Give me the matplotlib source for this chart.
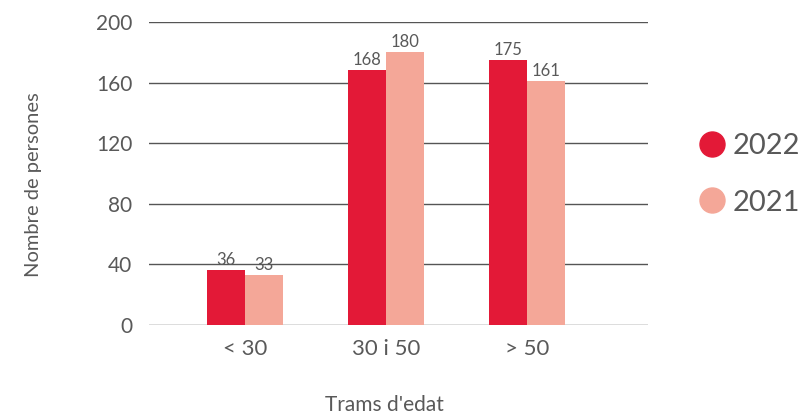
import matplotlib.pyplot as plt
from matplotlib.lines import Line2D
import numpy as np

# data
categories = ['< 30', '30 i 50', '> 50']
values_2022 = [36, 168, 175]
values_2021 = [33, 180, 161]
years = ['2022', '2021']
yticks = [0, 40, 80, 120, 160, 200]

col_2022 = '#E31937'
col_2021 = '#F4A798'
grey = '#595959'

plt.rcParams['font.family'] = ['Lato', 'DejaVu Sans']

fig = plt.figure(figsize=(8.05, 4.15), dpi=100)
ax = fig.add_axes([0.185, 0.217, 0.62, 0.730])

x = np.arange(len(categories))
w = 0.27
b1 = ax.bar(x - w / 2, values_2022, w, color=col_2022, zorder=3)
b2 = ax.bar(x + w / 2, values_2021, w, color=col_2021, zorder=3)

for bars in (b1, b2):
    for r in bars:
        ax.text(r.get_x() + r.get_width() / 2, r.get_height() + 1.5, str(int(r.get_height())),
                ha='center', va='bottom', fontsize=12, color=grey)

ax.set_xlim(-0.68, 2.86)
ax.set_ylim(0, 200)
ax.set_yticks(yticks)
ax.set_xticks(x)
ax.set_xticklabels(categories)
ax.yaxis.grid(True, color='#555555', linewidth=1.0, zorder=0)
ax.tick_params(axis='both', length=0, labelsize=15, labelcolor=grey)
ax.tick_params(axis='y', pad=12)
ax.tick_params(axis='x', pad=10, labelsize=16)
for s in ax.spines.values():
    s.set_visible(False)

fig.text(0.041, 0.555, 'Nombre de persones', rotation=90, ha='center', va='center',
         fontsize=14.5, color=grey)
fig.text(0.478, 0.024, "Trams d'edat", ha='center', va='center', fontsize=15, color=grey)

# legend
handles = [Line2D([], [], marker='o', linestyle='none', markersize=18, color=c)
           for c in (col_2022, col_2021)]
leg = fig.legend(handles, years, loc='center left', bbox_to_anchor=(0.83, 0.58),
                 frameon=False, fontsize=21, labelspacing=1.05, handletextpad=0.1,
                 handlelength=1.2)
for t in leg.get_texts():
    t.set_color(grey)

fig.savefig('out.png', dpi=100)
